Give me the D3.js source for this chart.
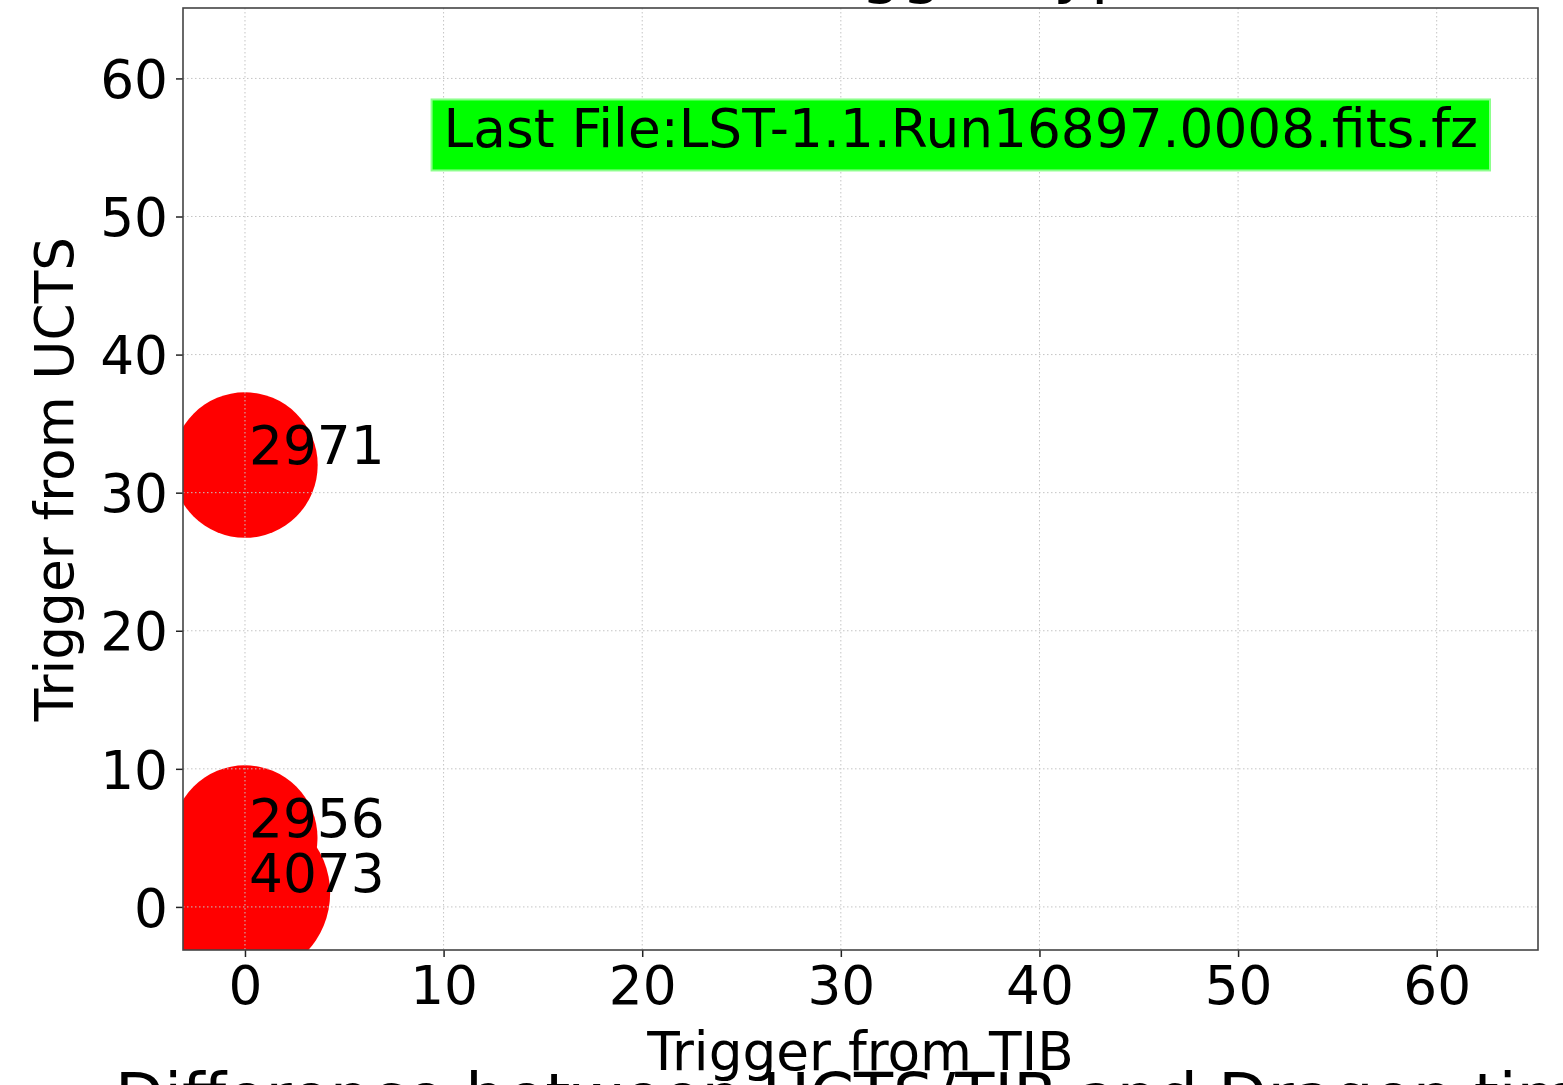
<!DOCTYPE html>
<html><head><meta charset="utf-8">
<script src="https://cdn.jsdelivr.net/npm/d3@7"></script>
<style>
html,body{margin:0;padding:0;background:#fff;overflow:hidden}
svg{display:block;font-family:"DejaVu Sans",sans-serif}
</style></head>
<body>
<svg id="chart" width="1563" height="1085"></svg>
<script>
// Data
const tibTrigger  = [0, 0, 0];
const uctsTrigger = [1, 5, 32];
const counts      = [4073, 2956, 2971];
const xTicks = [0, 10, 20, 30, 40, 50, 60];
const yTicks = [0, 10, 20, 30, 40, 50, 60];
const xDomain = [-3.12, 65.1];
const yDomain = [-3.12, 65.1];
const titleText = "Trigger types, TIB vs UCTS";
const bottomTitleText = "Difference between UCTS/TIB and Dragon time";
const xLabel = "Trigger from TIB";
const yLabel = "Trigger from UCTS";
const fileNote = "Last File:LST-1.1.Run16897.0008.fits.fz";
const notePos = [10, 55];

const FS = 53.3;
const svg = d3.select("#chart");
const L = 183, R = 1538, T = 8, B = 950;
const x = d3.scaleLinear().domain(xDomain).range([L, R]);
const y = d3.scaleLinear().domain(yDomain).range([B, T]);
const rScale = d3.scaleSqrt().domain([0, d3.max(counts)]).range([0, 85.5]);

svg.append("defs").append("clipPath").attr("id","clip")
  .append("rect").attr("x",L).attr("y",T).attr("width",R-L).attr("height",B-T);

// bubbles: edge layer under fill layer so only the outer outline shows
const pts = counts.map((c,i)=>({x:tibTrigger[i], y:uctsTrigger[i], c}));
const bub = svg.append("g").attr("clip-path","url(#clip)");
bub.append("g").selectAll("circle").data(pts).join("circle")
  .attr("cx", d=>x(d.x)).attr("cy", d=>y(d.y)).attr("r", d=>rScale(d.c))
  .attr("fill","none").attr("stroke","#ffffff").attr("stroke-width",3)
  .attr("stroke-dasharray","7,2");
bub.append("g").selectAll("circle").data(pts).join("circle")
  .attr("cx", d=>x(d.x)).attr("cy", d=>y(d.y)).attr("r", d=>rScale(d.c)-0.3)
  .attr("fill","#ff0000");

// grid (on top)
const grid = svg.append("g").attr("clip-path","url(#clip)");
grid.selectAll("line.gx").data(xTicks).join("line")
  .attr("x1",d=>x(d)).attr("x2",d=>x(d)).attr("y1",T).attr("y2",B)
  .attr("stroke","#c4c4c4").attr("stroke-width",1).attr("stroke-dasharray","1.5,2.5");
grid.selectAll("line.gy").data(yTicks).join("line")
  .attr("y1",d=>y(d)).attr("y2",d=>y(d)).attr("x1",L).attr("x2",R)
  .attr("stroke","#c4c4c4").attr("stroke-width",1).attr("stroke-dasharray","1.5,2.5");

// count labels
svg.append("g").selectAll("text").data(pts).join("text")
  .attr("x", d=>x(d.x)+4).attr("y", d=>y(d.y)-1)
  .attr("font-size",FS).attr("fill","#000")
  .text(d=>d.c);

// axes
const xAxis = d3.axisBottom(x).tickValues(xTicks).tickSize(7).tickPadding(8).tickFormat(d3.format("d"));
const yAxis = d3.axisLeft(y).tickValues(yTicks).tickSize(7).tickPadding(8).tickFormat(d3.format("d"));
const gx = svg.append("g").attr("transform",`translate(0,${B})`).call(xAxis);
const gy = svg.append("g").attr("transform",`translate(${L},0)`).call(yAxis);
[gx,gy].forEach(g=>{
  g.select(".domain").remove();
  g.selectAll(".tick line").attr("stroke","#222").attr("stroke-width",1.5);
  g.selectAll(".tick text").attr("font-size",FS).attr("fill","#000").attr("font-family","DejaVu Sans");
});
gx.selectAll(".tick text").attr("dy","0.74em");
gy.selectAll(".tick text").attr("dy","0.36em");

// frame
svg.append("rect").attr("x",L).attr("y",T).attr("width",R-L).attr("height",B-T)
  .attr("fill","none").attr("stroke","#444").attr("stroke-width",1.6);

// note box
const noteG = svg.append("g");
const noteText = noteG.append("text").attr("x",x(notePos[0])).attr("y",y(notePos[1]))
  .attr("font-size",FS).attr("fill","#000").text(fileNote);
const bb = noteText.node().getBBox();
noteG.insert("rect","text")
  .attr("x",bb.x-12).attr("y",y(notePos[1])-48).attr("width",bb.width+24).attr("height",71)
  .attr("fill","#00ff00").attr("stroke","#8cff8c").attr("stroke-width",2);

// axis labels
svg.append("text").attr("x",(L+R)/2).attr("y",1070).attr("text-anchor","middle")
  .attr("font-size",FS).text(xLabel);
svg.append("text").attr("transform",`translate(73,${(T+B)/2}) rotate(-90)`).attr("text-anchor","middle")
  .attr("font-size",FS).text(yLabel);

// clipped titles (top of this panel, bottom panel's title)
svg.append("text").attr("x",787).attr("y",-9).attr("font-size",64).text(titleText);
svg.append("text").attr("x",115).attr("y",1119).attr("font-size",64).text(bottomTitleText);
</script>
</body></html>
